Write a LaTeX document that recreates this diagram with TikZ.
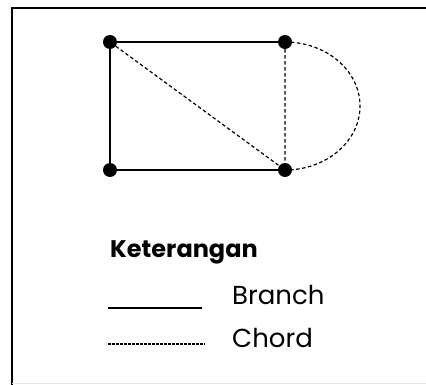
\documentclass[tikz,border=0pt]{standalone}
\usepackage{fontspec}
\setmainfont{Poppins}
\usetikzlibrary{positioning}

\begin{document}
\begin{tikzpicture}[x=1pt, y=-1pt,
    vertex/.style={circle, fill=black, inner sep=0pt, minimum size=14pt},
    branch/.style={line width=1.8pt},
    chord/.style={line width=1.2pt, dash pattern=on 3.5pt off 2.5pt},
    legend/.style={anchor=base west, inner sep=0pt, font=\fontsize{26}{30}\selectfont}
  ]
  \useasboundingbox (0,0) rectangle (426,385);
  % frame
  \draw[line width=1.8pt] (12,385) -- (12,8) -- (426,8);
  \draw[black!10, line width=0.8pt] (12,383) -- (426,383);
  % graph
  \node[vertex] (A) at (110,42) {};
  \node[vertex] (B) at (285,42) {};
  \node[vertex] (C) at (110,170) {};
  \node[vertex] (D) at (285,170) {};
  \draw[branch] (A) -- (B) (A) -- (C) (C) -- (D);
  \draw[chord] (A) -- (D) (B) -- (D);
  \draw[chord] (B.center) arc[start angle=90, end angle=-90, x radius=75, y radius=-64];
  % legend
  \node[legend, font=\fontsize{24}{30}\selectfont\bfseries] (ket) at (110,258) {Keterangan};
  \coordinate (b1) at (108,308);
  \coordinate (b2) at (202,308);
  \coordinate (c1) at (108,344);
  \coordinate (c2) at (205,344);
  \draw[branch] (b1) -- (b2);
  \draw[chord, line width=1.1pt, dash pattern=on 2.5pt off 1.5pt] (c1) -- (c2);
  \node[legend] (br) at (232,304) {Branch};
  \node[legend] (ch) at (232,347) {Chord};
\end{tikzpicture}
\end{document}
